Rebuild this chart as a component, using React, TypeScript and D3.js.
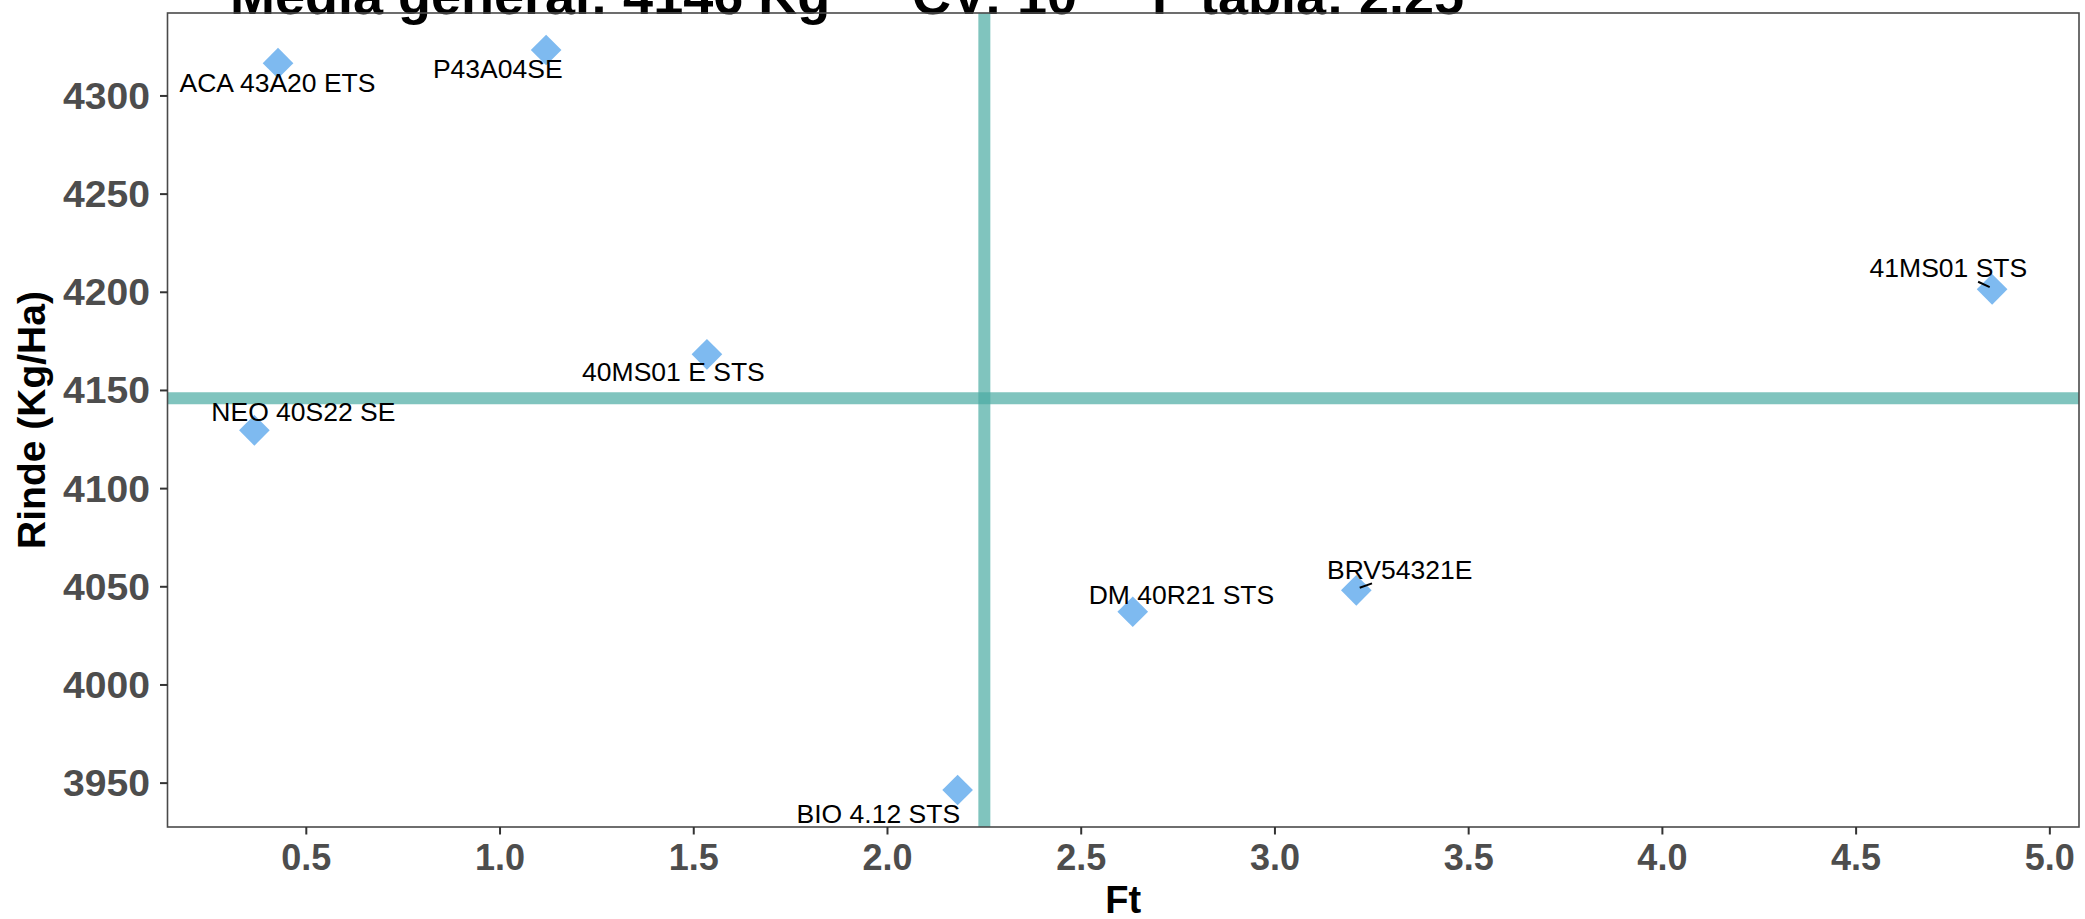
import React from "react";
import * as d3 from "d3";

// ---- data ----
const genotypes = [
  "ACA 43A20 ETS",
  "P43A04SE",
  "41MS01 STS",
  "40MS01 E STS",
  "NEO 40S22 SE",
  "DM 40R21 STS",
  "BRV54321E",
  "BIO 4.12 STS",
];
const ftValues = [0.427, 1.119, 4.851, 1.534, 0.366, 2.633, 3.21, 2.181];
const rindeValues = [4316.7, 4323.4, 4201.5, 4168.4, 4129.7, 4037.3, 4048.2, 3946.5];
const mediaGeneral = 4146;
const cvValue = 10;
const fTabla = 2.25;
const xTicks = [0.5, 1.0, 1.5, 2.0, 2.5, 3.0, 3.5, 4.0, 4.5, 5.0];
const yTicks = [3950, 4000, 4050, 4100, 4150, 4200, 4250, 4300];

// ---- layout (label placement, repel-like, in px) ----
const labelOffsets: [number, number][] = [
  [-0.5, 28.4],
  [-48.4, 28.3],
  [-43.7, -12.3],
  [-33.5, 26.7],
  [49, -9.3],
  [48.7, -8],
  [43.4, -11.6],
  [-79.3, 32.7],
];
const segments: ([number, number, number, number] | null)[] = [
  null,
  null,
  [-14, -7.6, -2.4, -2.3],
  null,
  null,
  null,
  [3.4, -2.6, 15.7, -7],
  null,
];

const W = 2085;
const H = 919;
const panel = { left: 167.5, right: 2079, top: 13, bottom: 827 };
const FONT = "'Liberation Sans', Arial, Helvetica, sans-serif";

function expand([a, b]: [number, number], f = 0.05): [number, number] {
  const d = (b - a) * f;
  return [a - d, b + d];
}

export default function App() {
  const xExt = d3.extent(ftValues) as [number, number];
  const yExt = d3.extent(rindeValues) as [number, number];
  const x = d3.scaleLinear().domain(expand(xExt)).range([panel.left, panel.right]);
  const y = d3.scaleLinear().domain(expand(yExt)).range([panel.bottom, panel.top]);
  const diamond = d3.symbol().type(d3.symbolSquare).size(470)() as string;
  const lineColor = "rgb(74,171,162)";
  const cx = (panel.left + panel.right) / 2;
  const cy = (panel.top + panel.bottom) / 2;

  return (
    <svg
      width={W}
      height={H}
      style={{ position: "absolute", left: 0, top: 0, background: "#fff" }}
      fontFamily={FONT}
    >
      <rect x={0} y={0} width={W} height={H} fill="#fff" />
      {/* title */}
      <text y={14} fontSize={54} fontWeight="bold" fill="#000">
        <tspan x={230}>{`Media general: ${mediaGeneral} Kg`}</tspan>
        <tspan x={912}>{`CV: ${cvValue}`}</tspan>
        <tspan x={1152}>{`F tabla: ${fTabla.toFixed(2)}`}</tspan>
      </text>

      <defs>
        <clipPath id="panelClip">
          <rect x={panel.left} y={panel.top} width={panel.right - panel.left} height={panel.bottom - panel.top} />
        </clipPath>
      </defs>

      <g clipPath="url(#panelClip)">
        <line
          x1={panel.left}
          x2={panel.right}
          y1={y(mediaGeneral)}
          y2={y(mediaGeneral)}
          stroke={lineColor}
          strokeOpacity={0.7}
          strokeWidth={12}
        />
        <line
          x1={x(fTabla)}
          x2={x(fTabla)}
          y1={panel.top}
          y2={panel.bottom}
          stroke={lineColor}
          strokeOpacity={0.7}
          strokeWidth={12}
        />
        {genotypes.map((g, i) => (
          <path
            key={"p" + g}
            d={diamond}
            transform={`translate(${x(ftValues[i])},${y(rindeValues[i])}) rotate(45)`}
            fill="#7EBAF0"
          />
        ))}
        {genotypes.map((g, i) => {
          const s = segments[i];
          if (!s) return null;
          const px = x(ftValues[i]);
          const py = y(rindeValues[i]);
          return (
            <line
              key={"s" + g}
              x1={px + s[0]}
              y1={py + s[1]}
              x2={px + s[2]}
              y2={py + s[3]}
              stroke="#000"
              strokeWidth={2}
            />
          );
        })}
        {genotypes.map((g, i) => (
          <text
            key={"t" + g}
            x={x(ftValues[i]) + labelOffsets[i][0]}
            y={y(rindeValues[i]) + labelOffsets[i][1]}
            textAnchor="middle"
            fontSize={26.5}
            fill="#000"
          >
            {g}
          </text>
        ))}
      </g>

      {/* panel border */}
      <rect
        x={panel.left}
        y={panel.top}
        width={panel.right - panel.left}
        height={panel.bottom - panel.top}
        fill="none"
        stroke="#4a4a4a"
        strokeWidth={1.6}
      />

      {/* y axis */}
      {yTicks.map((t) => (
        <g key={"y" + t}>
          <line x1={panel.left - 7.5} x2={panel.left} y1={y(t)} y2={y(t)} stroke="#333" strokeWidth={2} />
          <text
            x={150}
            y={y(t) + 13}
            textAnchor="end"
            fontSize={37}
            fontWeight="bold"
            fill="#4D4D4D"
            textLength={87}
            lengthAdjust="spacingAndGlyphs"
          >
            {t}
          </text>
        </g>
      ))}
      {/* x axis */}
      {xTicks.map((t) => (
        <g key={"x" + t}>
          <line x1={x(t)} x2={x(t)} y1={panel.bottom} y2={panel.bottom + 7.5} stroke="#333" strokeWidth={2} />
          <text x={x(t)} y={870} textAnchor="middle" fontSize={36} fontWeight="bold" fill="#4D4D4D">
            {t.toFixed(1)}
          </text>
        </g>
      ))}

      <text x={cx} y={913} textAnchor="middle" fontSize={38} fontWeight="bold" fill="#000">
        Ft
      </text>
      <text
        transform={`translate(45,${cy}) rotate(-90)`}
        textAnchor="middle"
        fontSize={39}
        fontWeight="bold"
        fill="#000"
      >
        Rinde (Kg/Ha)
      </text>
    </svg>
  );
}
